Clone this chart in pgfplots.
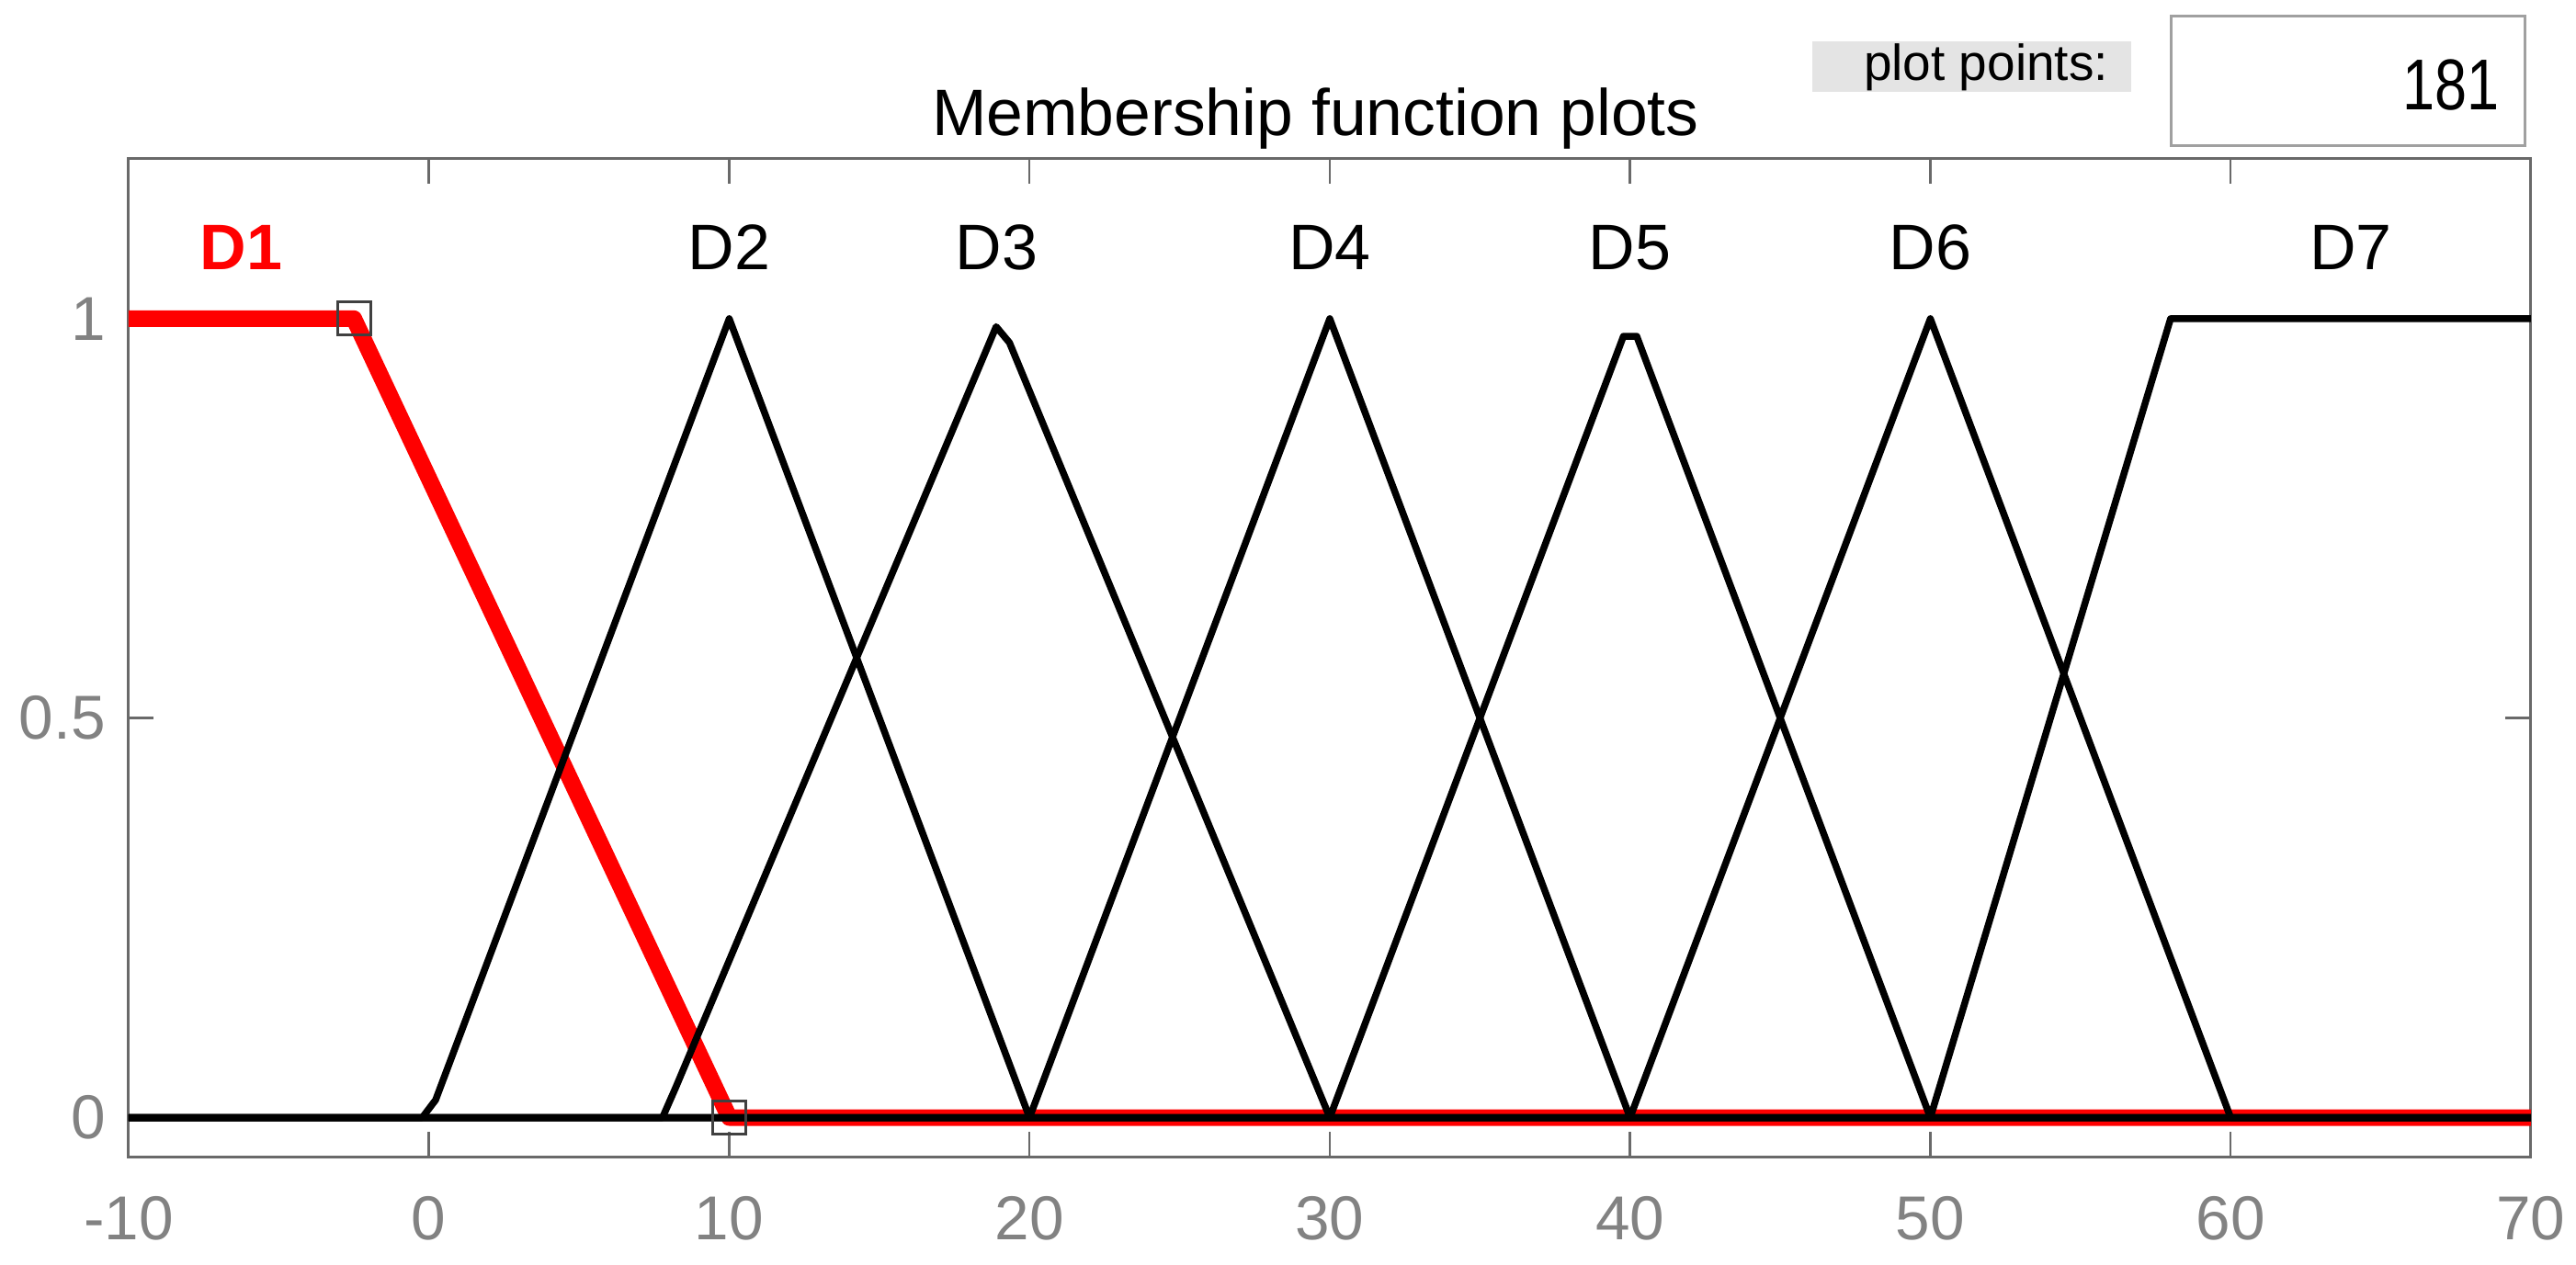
\documentclass[border=0pt]{standalone}
\usepackage{fontspec}
\setmainfont{Liberation Sans}
\usepackage{pgfplots}
\pgfplotsset{compat=1.18}
\definecolor{axgray}{RGB}{105,105,105}
\definecolor{tickgray}{RGB}{130,130,130}
\definecolor{boxgray}{RGB}{228,228,228}
\definecolor{editgray}{RGB}{160,160,160}
\definecolor{mfred}{RGB}{255,0,0}
\begin{document}
\begin{tikzpicture}[x=1pt,y=1pt]
\useasboundingbox (0,0) rectangle (560.6,275.4);
\begin{axis}[
  at={(28pt,23.4pt)}, anchor=south west,
  scale only axis, width=522.8pt, height=217.4pt,
  xmin=-10, xmax=70, ymin=-0.05, ymax=1.2,
  xtick={-10,0,10,20,30,40,50,60,70},
  xticklabels={-10,0,10,20,30,40,50,60,70},
  ytick={0,0.5,1}, yticklabels={0,0.5,1},
  minor tick num=0,
  tick align=inside, major tick length=5.5pt,
  axis line style={axgray, line width=0.6pt},
  every tick/.style={axgray, line width=0.5pt},
  ticklabel style={text=tickgray, font=\fontsize{13.5}{15}\selectfont},
  xticklabel style={yshift=-5pt},
  yticklabel style={xshift=-1.5pt},
  title={Membership function plots},
  title style={at={(0.494,1)}, anchor=base, yshift=-1pt, inner sep=0pt, font=\fontsize{14.3}{16}\selectfont},
]
% D1 (selected, red)
\addplot[mfred, line width=3.6pt, line join=round] coordinates {(-10,1) (-2.5,1) (10,0) (70,0)};
% D2
\addplot[black, line width=1.5pt, line join=round] coordinates {(-10,0) (-0.222,0) (0.222,0.022) (10,1) (20,0) (70,0)};
% D3
\addplot[black, line width=1.5pt, line join=round] coordinates {(-10,0) (7.778,0) (8.222,0.038) (18.889,0.990) (19.333,0.970) (30,0) (70,0)};
% D4
\addplot[black, line width=1.5pt, line join=round] coordinates {(-10,0) (20,0) (30,1) (40,0) (70,0)};
% D5
\addplot[black, line width=1.5pt, line join=round] coordinates {(-10,0) (30,0) (39.778,0.978) (40.222,0.978) (50,0) (70,0)};
% D6
\addplot[black, line width=1.5pt, line join=round] coordinates {(-10,0) (40,0) (50,1) (60,0) (70,0)};
% D7
\addplot[black, line width=1.5pt, line join=round] coordinates {(-10,0) (50,0) (58,1) (70,1)};
% vertex markers of the selected function
\addplot[only marks, mark=square, mark size=3.6pt, mark options={draw=black!75, line width=0.6pt, fill=none}] coordinates {(-2.5,1) (10,0)};
% labels
\node[font=\fontsize{14}{16}\selectfont\bfseries, text=mfred] at (axis cs:-6.25,1.089) {D1};
\node[font=\fontsize{14}{16}\selectfont] at (axis cs:10,1.089) {D2};
\node[font=\fontsize{14}{16}\selectfont] at (axis cs:18.9,1.089) {D3};
\node[font=\fontsize{14}{16}\selectfont] at (axis cs:30,1.089) {D4};
\node[font=\fontsize{14}{16}\selectfont] at (axis cs:40,1.089) {D5};
\node[font=\fontsize{14}{16}\selectfont] at (axis cs:50,1.089) {D6};
\node[font=\fontsize{14}{16}\selectfont] at (axis cs:64,1.089) {D7};
\end{axis}
% plot points controls
\fill[boxgray] (394.4,255.4) rectangle (463.8,266.4);
\node[anchor=base east, inner sep=0pt, font=\fontsize{11}{12}\selectfont] at (459,257.8) {plot points:};
\draw[editgray, line width=0.6pt, fill=white] (472.4,243.6) rectangle (549.4,271.8);
\node[anchor=base east, inner sep=0pt, font=\fontsize{14}{16}\selectfont] at (544.2,251.4) {\scalebox{0.9}[1.12]{181}};
\end{tikzpicture}
\end{document}
